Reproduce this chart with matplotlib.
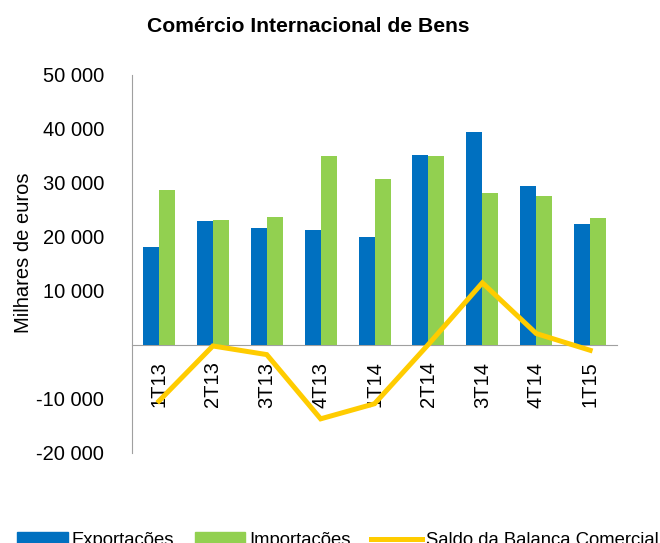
import matplotlib
matplotlib.use("Agg")
import matplotlib.pyplot as plt
import numpy as np
from matplotlib.patches import Patch
from matplotlib.lines import Line2D

plt.rcParams['font.family'] = ['Liberation Sans', 'DejaVu Sans']

categories = ["1T13", "2T13", "3T13", "4T13", "1T14", "2T14", "3T14", "4T14", "1T15"]
exportacoes = [18100, 22900, 21600, 21200, 19900, 35100, 39500, 29500, 22300]
importacoes = [28600, 23100, 23600, 34900, 30700, 34900, 28100, 27500, 23500]
saldo = [-10400, -200, -1800, -13700, -10900, 100, 11500, 2100, -1000]
yticks = [-20000, -10000, 0, 10000, 20000, 30000, 40000, 50000]
yticklabels = ["-20 000", "-10 000", "", "10 000", "20 000", "30 000", "40 000", "50 000"]

blue = "#0070C0"
green = "#92D050"
yellow = "#FFCC00"
fs = 14.5

fig = plt.figure(figsize=(6.6, 5.43), dpi=100)
ax = fig.add_axes([0.2, 0.166, 0.735, 0.696])

for s in ['top', 'right']:
    ax.spines[s].set_visible(False)
ax.spines['bottom'].set_position(('data', 0))
ax.spines['bottom'].set_color('#A0A0A0')
ax.spines['left'].set_color('#A0A0A0')
ax.spines['bottom'].set_zorder(1)

x = np.arange(len(categories))
w = 0.297
ax.bar(x - w / 2, exportacoes, width=w, color=blue, zorder=2)
ax.bar(x + w / 2, importacoes, width=w, color=green, zorder=2)
ax.plot(x, saldo, color=yellow, linewidth=3.6, zorder=3, solid_joinstyle='miter')

ax.set_xlim(-0.5, len(categories) - 0.5)
ax.set_ylim(-20000, 50000)
ax.set_yticks(yticks)
ax.set_yticklabels(yticklabels, fontsize=fs)
ax.set_xticks(x)
ax.set_xticklabels(categories, rotation=90, fontsize=fs, va='top', ha='center')
ax.tick_params(axis='x', length=0, pad=12)
ax.tick_params(axis='y', length=0, pad=20)

ax.set_ylabel("Milhares de euros", fontsize=fs)
ax.yaxis.set_label_coords(-0.204, 0.53)

fig.text(0.467, 0.952, "Comércio Internacional de Bens", fontsize=15.2, fontweight='bold',
         ha='center', va='center')

handles = [Patch(color=blue), Patch(color=green), Line2D([0], [0], color=yellow, linewidth=3.6)]
labels = ["Exportações", "Importações", "Saldo da Balanca Comercial"]
fig.legend(handles, labels, loc='center', bbox_to_anchor=(0.512, 0.004), ncol=3, frameon=False,
           fontsize=13.3, handlelength=2.75, handletextpad=0.22, columnspacing=1.1,
           borderpad=0, borderaxespad=0)

fig.savefig("out.png", dpi=100)
